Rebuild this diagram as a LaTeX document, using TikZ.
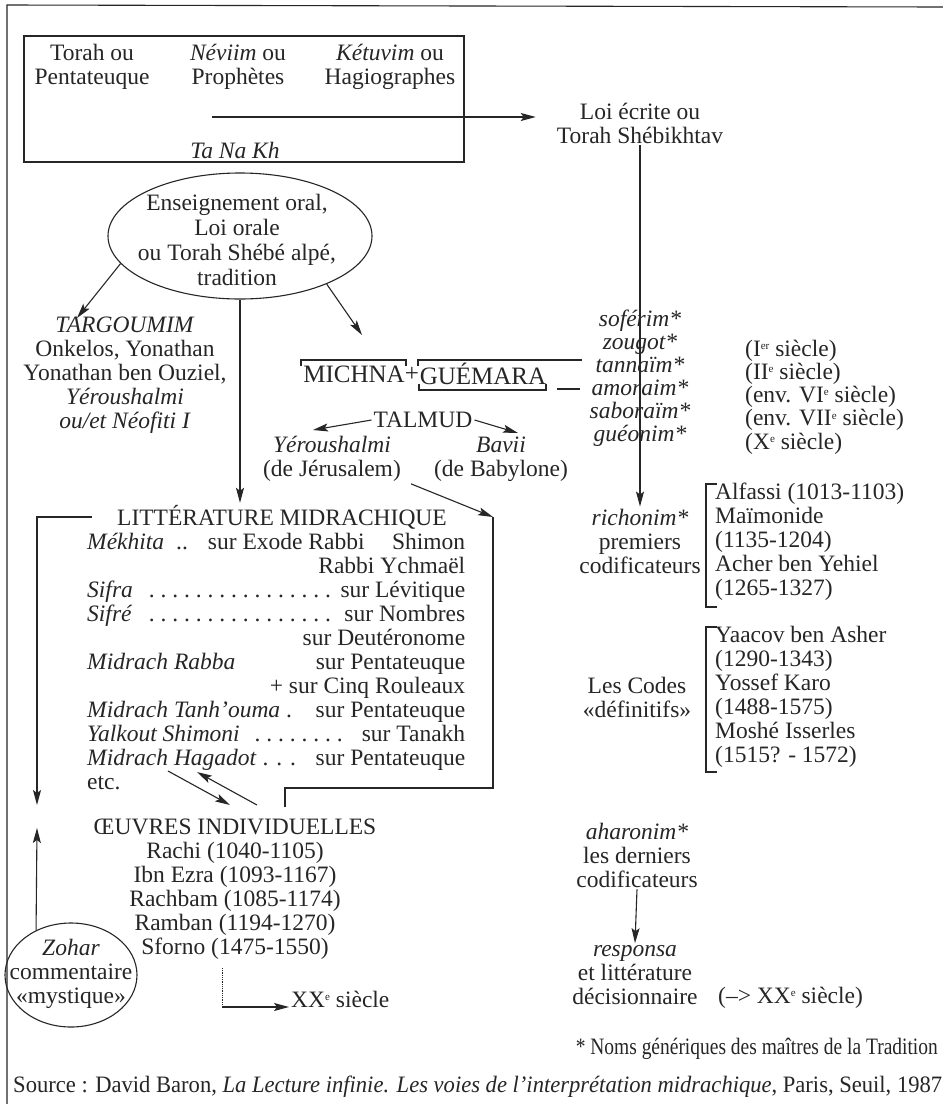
\documentclass[tikz,border=0pt]{standalone}
\usepackage{fontspec}
\setmainfont{Liberation Serif}
\usepackage{graphicx}
\usetikzlibrary{arrows.meta,shapes.geometric,calc}
\definecolor{ink}{HTML}{262626}
\newcommand\dotlead{\leaders\hbox to 0.5em{\hss.\hss}\hfill}
\newcommand\sx[1]{\raisebox{0.62ex}{\fontsize{11pt}{11pt}\selectfont #1}}
\newcommand\fs{\fontsize{23.5pt}{24pt}\selectfont}
\begin{document}
\begin{tikzpicture}[x=1pt,y=-1pt,
  every node/.style={text=ink,font=\fs,inner sep=2pt},
  ln/.style={draw=ink,line width=1.1pt},
  arr/.style={ln,-{Stealth[length=15pt,width=8pt,inset=3pt]}},
  ell/.style={draw=ink,line width=1.1pt,ellipse,inner sep=0pt}]
\fill[white] (0,0) rectangle (943,1104);
\useasboundingbox (0,0) rectangle (943,1104);
% frame
\draw[ln] (943,7) -- (7,5) -- (7,1104);
% TaNaKh box
\node[ln,minimum width=440pt,minimum height=126pt,inner sep=0pt] (box) at (244,99) {};
\node[align=center] (tor) at (92,67) {Torah ou\\Pentateuque};
\node[align=center] (nev) at (238,67) {\textit{Néviim} ou\\Prophètes};
\node[align=center] (ket) at (390,67) {\textit{Kétuvim} ou\\Hagiographes};
\node (tnk) at (235,150) {\textit{Ta Na Kh}};
\node[align=center] (loi) at (640,123) {Loi écrite ou\\Torah Shébikhtav};
% oral teaching ellipse
\node[ell,minimum width=264pt,minimum height=126pt] (ens) at (240,236) {};
\node[align=center,font=\fontsize{23.5pt}{25pt}\selectfont] (enst) at (237,240) {Enseignement oral,\\Loi orale\\ou Torah Shébé alpé,\\tradition};
% Targoumim
\node[align=center] (targ) at (125,375) {\textit{TARGOUMIM}\\Onkelos, Yonathan\\Yonathan ben Ouziel,\\\textit{Yéroushalmi}\\\textit{ou/et Néofiti I}};
% Michna + Guemara
\node[font=\fontsize{25pt}{26pt}\selectfont] (mich) at (354,374) {MICHNA};
\node[font=\fontsize{25pt}{26pt}\selectfont] (plus) at (412,374) {+};
\node[font=\fontsize{25pt}{26pt}\selectfont] (guem) at (483,374) {GUÉMARA};
\node (tal) at (423,420) {TALMUD};
\node[align=center] (yer) at (332,459) {\textit{Yéroushalmi}\\(de Jérusalem)};
\node[align=center] (bav) at (501,459) {\textit{Bavii}\\(de Babylone)};
% right column
\node[align=center,font=\fontsize{23.5pt}{23pt}\selectfont\itshape] (gen) at (640,378) {soférim*\\zougot*\\tannaïm*\\amoraim*\\saboraïm*\\guéonim*};
\node[anchor=west,align=left,font=\fontsize{23.5pt}{23.3pt}\selectfont] (cent) at (743,397) {(I\sx{er} siècle)\\(II\sx{e} siècle)\\(env. VI\sx{e} siècle)\\(env. VII\sx{e} siècle)\\(X\sx{e} siècle)};
\node[align=center] (rich) at (640,541) {\textit{richonim*}\\premiers\\codificateurs};
\node[anchor=west,align=left] (rnames) at (713,542) {Alfassi (1013-1103)\\Maïmonide\\(1135-1204)\\Acher ben Yehiel\\(1265-1327)};
\node[align=center] (codes) at (637,697) {Les Codes\\«définitifs»};
\node[anchor=west,align=left] (cnames) at (713,697) {Yaacov ben Asher\\(1290-1343)\\Yossef Karo\\(1488-1575)\\Moshé Isserles\\(1515? - 1572)};
\node[align=center] (ahar) at (637,855) {\textit{aharonim*}\\les derniers\\codificateurs};
\node[align=center] (resp) at (635,975) {\textit{responsa}\\et littérature\\décisionnaire};
\node[anchor=west] (xx2) at (716,998) {(–> XX\sx{e} siècle)};
% Litterature midrachique
\node (lit) at (282,517) {LITTÉRATURE MIDRACHIQUE};
\node[anchor=base west] (r1) at (85,549) {\makebox[378pt][l]{\textit{Mékhita}\hspace{12pt}..\hspace{20pt}sur Exode Rabbi\hfill Shimon}};
\node[anchor=base west] (r2) at (85,573) {\makebox[378pt][r]{Rabbi Ychmaël}};
\node[anchor=base west] (r3) at (85,597) {\makebox[378pt][l]{\textit{Sifra}\hspace{12pt}\dotlead\,sur Lévitique}};
\node[anchor=base west] (r4) at (85,621) {\makebox[378pt][l]{\textit{Sifré}\hspace{6pt}\dotlead\,sur Nombres}};
\node[anchor=base west] (r5) at (85,645) {\makebox[378pt][r]{sur Deutéronome}};
\node[anchor=base west] (r6) at (85,669) {\makebox[378pt][l]{\textit{Midrach Rabba}\hfill sur Pentateuque}};
\node[anchor=base west] (r7) at (85,693) {\makebox[378pt][r]{+ sur Cinq Rouleaux}};
\node[anchor=base west] (r8) at (85,717) {\makebox[378pt][l]{\textit{Midrach Tanh’ouma} .\hfill sur Pentateuque}};
\node[anchor=base west] (r9) at (85,741) {\makebox[378pt][l]{\textit{Yalkout Shimoni}\hspace{6pt}\dotlead\hspace{12pt}sur Tanakh}};
\node[anchor=base west] (r10) at (85,765) {\makebox[378pt][l]{\textit{Midrach Hagadot} . . .\hfill sur Pentateuque}};
\node[anchor=base west] (r11) at (85,789) {etc.};
% oeuvres
\node[align=center] (oeu) at (235,889) {ŒUVRES INDIVIDUELLES\\Rachi (1040-1105)\\Ibn Ezra (1093-1167)\\Rachbam (1085-1174)\\Ramban (1194-1270)\\Sforno (1475-1550)};
\node[anchor=west] (xx) at (289,999) {XX\sx{e} siècle};
% Zohar
\node[ell,minimum width=132pt,minimum height=104pt] (zoh) at (71,975) {};
\node[align=center] (zoht) at (71,974) {\textit{Zohar}\\commentaire\\«mystique»};
% footer
\node[anchor=base east] (note) at (940,1054) {\resizebox{362pt}{\height}{* Noms génériques des maîtres de la Tradition}};
\node[anchor=base west] (src) at (11,1092) {\resizebox{929pt}{\height}{Source : David Baron, \textit{La Lecture infinie. Les voies de l’interprétation midrachique}, Paris, Seuil, 1987}};

% ---- connectors ----
\coordinate (tstart) at (212,117);
\draw[arr] (tstart) -- ([xshift=-19pt]tstart -| loi.west);
\draw[arr] (loi.south) -- (rich.north);
\coordinate (targtip) at (77,318);
\draw[arr] (ens.193) -- (targtip);
\coordinate (michtip) at (362,335);
\draw[arr] (ens.-29) -- (michtip);
\draw[arr] (ens.south) -- (ens.south |- lit.north);
% brackets round Michna / Guemara
\draw[ln] (301,366) -- (301,360) -- (406,360) -- (406,366);
\draw[ln] (418,366) -- (418,360) -- (582,360);
\draw[ln] (419,384) -- (419,390) -- (546,390) -- (546,384);
\draw[ln] (557,389) -- (580,389);
% Talmud
\coordinate (yertip) at (313,430);
\coordinate (bavtip) at (518,433);
\draw[arr] (tal.west) -- (yertip);
\draw[arr] (tal.east) -- (bavtip);
\coordinate (lcorner) at (493,517);
\draw[arr] ([xshift=8pt]yer.south east) -- (lcorner);
\draw[ln] (lcorner) -- (493,788) -- (285,788) -- (285,807);
% left loop
\coordinate (ltip) at (37,805);
\draw[arr] ([xshift=-23pt]lit.west) -| (ltip);
\coordinate (ztip) at (37,828);
\draw[arr] (zoh.128) -- (ztip);
% between Midrach Hagadot and oeuvres
\coordinate (a1s) at (168,771); \coordinate (a1e) at (230,805);
\coordinate (a2s) at (257,805); \coordinate (a2e) at (197,772);
\draw[arr] (a1s) -- (a1e);
\draw[arr] (a2s) -- (a2e);
% dotted to XXe siecle
\coordinate (dtop) at (222,968);
\coordinate (dcor) at (222,1007);
\draw[draw=ink,line width=0.8pt,densely dotted] (dtop) -- (dcor);
\draw[arr] (dcor) -- (dcor -| xx.west) ;
% right brackets
\draw[ln] (717,484) -- (706,484) -- (706,607) -- (717,607);
\draw[ln] (717,627) -- (706,627) -- (706,772) -- (717,772);
\draw[arr] (ahar.south) -- (resp.north);
\end{tikzpicture}
\end{document}
